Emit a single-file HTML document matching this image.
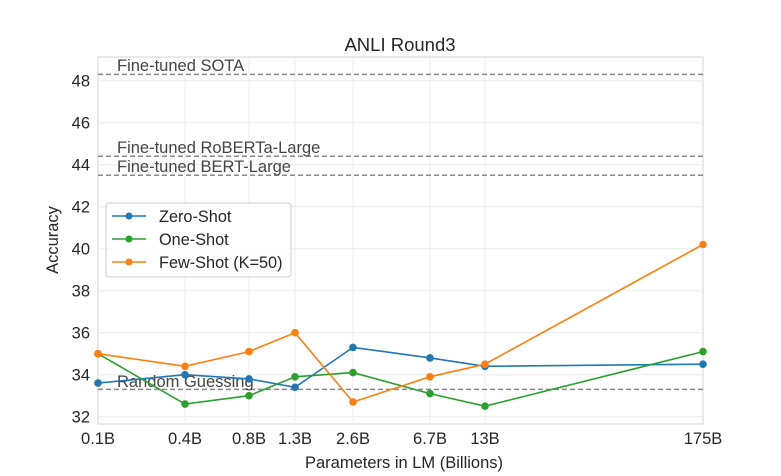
<!DOCTYPE html>
<html><head><meta charset="utf-8"><style>body{margin:0;background:#fff}svg{display:block}text{font-family:"Liberation Sans",sans-serif;fill:#262626}</style></head><body>
<svg width="781" height="476" xmlns="http://www.w3.org/2000/svg">
<rect x="98" y="57" width="605" height="367" fill="#fff" stroke="#d6d6d6" stroke-width="1"/>
<g stroke="#ececec" stroke-width="1">
<line x1="185" y1="57" x2="185" y2="424"/><line x1="249" y1="57" x2="249" y2="424"/><line x1="295" y1="57" x2="295" y2="424"/><line x1="353" y1="57" x2="353" y2="424"/><line x1="430" y1="57" x2="430" y2="424"/><line x1="485" y1="57" x2="485" y2="424"/>
<line x1="98" y1="80.7" x2="703" y2="80.7"/><line x1="98" y1="122.7" x2="703" y2="122.7"/><line x1="98" y1="164.7" x2="703" y2="164.7"/><line x1="98" y1="206.7" x2="703" y2="206.7"/><line x1="98" y1="248.7" x2="703" y2="248.7"/><line x1="98" y1="290.7" x2="703" y2="290.7"/><line x1="98" y1="332.7" x2="703" y2="332.7"/><line x1="98" y1="374.7" x2="703" y2="374.7"/><line x1="98" y1="416.7" x2="703" y2="416.7"/>
</g>
<g stroke="#888" stroke-width="1.5" stroke-dasharray="5,3">
<line x1="98" y1="74.4" x2="703" y2="74.4"/><line x1="98" y1="156.3" x2="703" y2="156.3"/><line x1="98" y1="175.2" x2="703" y2="175.2"/><line x1="98" y1="389.4" x2="703" y2="389.4"/>
</g>
<g font-size="16.5">
<text x="117" y="71" style="fill:#444">Fine-tuned SOTA</text>
<text x="117" y="153" style="fill:#444">Fine-tuned RoBERTa-Large</text>
<text x="117" y="172" style="fill:#444">Fine-tuned BERT-Large</text>
<text x="117" y="387" style="fill:#444">Random Guessing</text>
</g>
<g fill="none" stroke-width="1.6">
<polyline stroke="#1f77b4" points="98,383.1 185,374.7 249,378.9 295,387.3 353,347.4 430,357.9 485,366.3 703,364.2"/>
<polyline stroke="#2ca02c" points="98,353.7 185,404.1 249,395.7 295,376.8 353,372.6 430,393.6 485,406.2 703,351.6"/>
<polyline stroke="#ff7f0e" points="98,353.7 185,366.3 249,351.6 295,332.7 353,402 430,376.8 485,364.2 703,244.5"/>
</g>
<g fill="#1f77b4"><circle cx="98" cy="383.1" r="3.8"/><circle cx="185" cy="374.7" r="3.8"/><circle cx="249" cy="378.9" r="3.8"/><circle cx="295" cy="387.3" r="3.8"/><circle cx="353" cy="347.4" r="3.8"/><circle cx="430" cy="357.9" r="3.8"/><circle cx="485" cy="366.3" r="3.8"/><circle cx="703" cy="364.2" r="3.8"/></g>
<g fill="#2ca02c"><circle cx="98" cy="353.7" r="3.8"/><circle cx="185" cy="404.1" r="3.8"/><circle cx="249" cy="395.7" r="3.8"/><circle cx="295" cy="376.8" r="3.8"/><circle cx="353" cy="372.6" r="3.8"/><circle cx="430" cy="393.6" r="3.8"/><circle cx="485" cy="406.2" r="3.8"/><circle cx="703" cy="351.6" r="3.8"/></g>
<g fill="#ff7f0e"><circle cx="98" cy="353.7" r="3.8"/><circle cx="185" cy="366.3" r="3.8"/><circle cx="249" cy="351.6" r="3.8"/><circle cx="295" cy="332.7" r="3.8"/><circle cx="353" cy="402" r="3.8"/><circle cx="430" cy="376.8" r="3.8"/><circle cx="485" cy="364.2" r="3.8"/><circle cx="703" cy="244.5" r="3.8"/></g>
<rect x="106" y="203" width="185" height="74" rx="3" fill="#fff" fill-opacity="0.85" stroke="#ccc"/>
<line x1="112" y1="216" x2="146" y2="216" stroke="#1f77b4" stroke-width="1.6"/><circle cx="129" cy="216" r="3.5" fill="#1f77b4"/>
<line x1="112" y1="239" x2="146" y2="239" stroke="#2ca02c" stroke-width="1.6"/><circle cx="129" cy="239" r="3.5" fill="#2ca02c"/>
<line x1="112" y1="262" x2="146" y2="262" stroke="#ff7f0e" stroke-width="1.6"/><circle cx="129" cy="262" r="3.5" fill="#ff7f0e"/>
<g font-size="16.3"><text x="159" y="222">Zero-Shot</text><text x="159" y="245">One-Shot</text><text x="159" y="268">Few-Shot (K=50)</text></g>
<g font-size="16.5" text-anchor="end">
<text x="90" y="86.5">48</text><text x="90" y="128.5">46</text><text x="90" y="170.5">44</text><text x="90" y="212.5">42</text><text x="90" y="254.5">40</text><text x="90" y="296.5">38</text><text x="90" y="338.5">36</text><text x="90" y="380.5">34</text><text x="90" y="422.5">32</text>
</g>
<g font-size="16.5" text-anchor="middle">
<text x="98" y="444">0.1B</text><text x="185" y="444">0.4B</text><text x="249" y="444">0.8B</text><text x="295" y="444">1.3B</text><text x="353" y="444">2.6B</text><text x="430" y="444">6.7B</text><text x="485" y="444">13B</text><text x="703" y="444">175B</text>
<text x="404" y="468">Parameters in LM (Billions)</text>
<text x="400" y="51" font-size="18.5">ANLI Round3</text>
<text transform="translate(58,240) rotate(-90)">Accuracy</text>
</g>
</svg>
</body></html>
